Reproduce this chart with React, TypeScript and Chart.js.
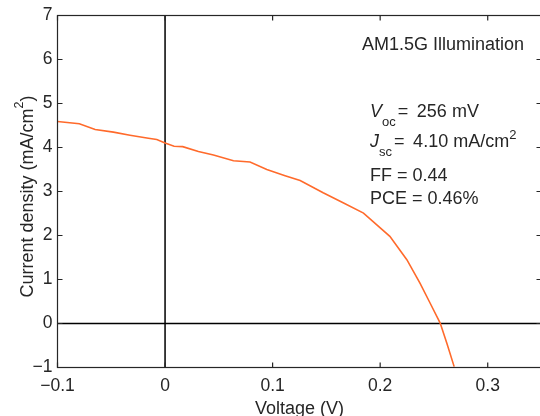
import React, { useEffect, useRef } from "react";
import { Chart, registerables } from "chart.js";

Chart.register(...registerables);

const voltage = [
  -0.1, -0.0797, -0.065, -0.048, -0.0326, -0.0155, -0.0077, 0, 0.0084, 0.0164,
  0.031, 0.045, 0.0636, 0.079, 0.0946, 0.1116, 0.1256, 0.147, 0.166, 0.1845,
  0.209, 0.2248, 0.237, 0.2465, 0.2558, 0.262, 0.2688,
];
const currentDensity = [
  4.59, 4.54, 4.41, 4.35, 4.28, 4.21, 4.18, 4.1, 4.03, 4.02, 3.91, 3.83, 3.7,
  3.67, 3.5, 3.36, 3.25, 2.97, 2.74, 2.51, 1.98, 1.45, 0.92, 0.46, 0.01, -0.45,
  -0.98,
];
const xTicks = [-0.1, 0, 0.1, 0.2, 0.3];
const yTicks = [-1, 0, 1, 2, 3, 4, 5, 6, 7];
const annotationTitle = "AM1.5G Illumination";
const vocText = "= \u2009256 mV";
const jscText = "= \u20094.10 mA/cm";
const ffText = "FF = 0.44";
const pceText = "PCE = 0.46%";

const FONT = "'Liberation Sans', Arial, Helvetica, sans-serif";
const INK = "#262626";

function fmt(v: number): string {
  const r = Math.round(v * 100) / 100;
  if (r === 0) return "0";
  return (r < 0 ? "\u2212" : "") + String(Math.abs(r));
}

type Seg = { t: string; size: number; dy?: number; dx?: number; italic?: boolean };

function drawSegs(ctx: CanvasRenderingContext2D, segs: Seg[], x: number, y: number, align: "left" | "center") {
  const widths = segs.map((s) => {
    ctx.font = `${s.italic ? "italic " : ""}${s.size}px ${FONT}`;
    return ctx.measureText(s.t).width + (s.dx || 0);
  });
  const total = widths.reduce((a, b) => a + b, 0);
  let cx = align === "center" ? x - total / 2 : x;
  ctx.textAlign = "left";
  ctx.textBaseline = "alphabetic";
  segs.forEach((s, i) => {
    ctx.font = `${s.italic ? "italic " : ""}${s.size}px ${FONT}`;
    ctx.fillText(s.t, cx + (s.dx || 0), y + (s.dy || 0));
    cx += widths[i];
  });
}

const framePlugin = {
  id: "framePlugin",
  beforeDatasetsDraw(chart: any) {
    const { ctx, chartArea: a, scales } = chart;
    const x0 = scales.x.getPixelForValue(0);
    const y0 = scales.y.getPixelForValue(0);
    ctx.save();
    ctx.strokeStyle = "#000";
    ctx.lineWidth = 1.5;
    ctx.beginPath();
    ctx.moveTo(x0, a.top);
    ctx.lineTo(x0, a.bottom);
    ctx.moveTo(a.left, y0);
    ctx.lineTo(a.right, y0);
    ctx.stroke();
    ctx.restore();
  },
  afterDatasetsDraw(chart: any) {
    const { ctx, chartArea: a, scales } = chart;
    ctx.save();
    ctx.strokeStyle = INK;
    ctx.lineWidth = 1.2;
    ctx.strokeRect(a.left, a.top, a.right - a.left, a.bottom - a.top);
    const tl = 5;
    ctx.beginPath();
    xTicks.forEach((v) => {
      const px = scales.x.getPixelForValue(v);
      ctx.moveTo(px, a.bottom);
      ctx.lineTo(px, a.bottom - tl);
      ctx.moveTo(px, a.top);
      ctx.lineTo(px, a.top + tl);
    });
    yTicks.forEach((v) => {
      const py = scales.y.getPixelForValue(v);
      ctx.moveTo(a.left, py);
      ctx.lineTo(a.left + tl, py);
      ctx.moveTo(a.right, py);
      ctx.lineTo(a.right - tl, py);
    });
    ctx.stroke();

    ctx.fillStyle = INK;
    // axis titles
    drawSegs(ctx, [{ t: "Voltage (V)", size: 18 }], (a.left + a.right) / 2, 414, "center");
    ctx.save();
    ctx.translate(33, 196.5);
    ctx.rotate(-Math.PI / 2);
    drawSegs(
      ctx,
      [
        { t: "Current density (mA/cm", size: 18 },
        { t: "2", size: 12.5, dy: -10 },
        { t: ")", size: 18 },
      ],
      0,
      0,
      "center"
    );
    ctx.restore();

    // annotations
    drawSegs(ctx, [{ t: annotationTitle, size: 18 }], 362, 49.5, "left");
    drawSegs(
      ctx,
      [
        { t: "V", size: 18, italic: true },
        { t: "oc", size: 13, dy: 8.5 },
        { t: vocText, size: 18, dx: 2 },
      ],
      370,
      117,
      "left"
    );
    drawSegs(
      ctx,
      [
        { t: "J", size: 18, italic: true },
        { t: "sc", size: 13, dy: 8.5 },
        { t: jscText, size: 18, dx: 2 },
        { t: "2", size: 13, dy: -8 },
      ],
      370,
      147,
      "left"
    );
    drawSegs(ctx, [{ t: ffText, size: 18 }], 370, 180.5, "left");
    drawSegs(ctx, [{ t: pceText, size: 18 }], 370, 204, "left");
    ctx.restore();
  },
};

export default function App() {
  const ref = useRef<HTMLCanvasElement | null>(null);
  useEffect(() => {
    if (!ref.current) return;
    const chart = new Chart(ref.current, {
      type: "line",
      data: {
        datasets: [
          {
            data: voltage.map((v, i) => ({ x: v, y: currentDensity[i] })),
            borderColor: "#ff6a2b",
            borderWidth: 1.6,
            pointRadius: 0,
            tension: 0,
            fill: false,
          },
        ],
      },
      options: {
        animation: false,
        responsive: false,
        devicePixelRatio: 1,
        layout: { padding: { top: 15.5, right: 18.5, left: 0, bottom: 0 } },
        plugins: { legend: { display: false }, tooltip: { enabled: false } },
        scales: {
          x: {
            type: "linear",
            min: -0.1,
            max: 0.35,
            afterFit: (s: any) => {
              s.height = 48.5;
            },
            afterBuildTicks: (s: any) => {
              s.ticks = xTicks.map((v) => ({ value: v }));
            },
            grid: { display: false, drawTicks: false },
            border: { display: false },
            ticks: {
              autoSkip: false,
              maxRotation: 0,
              padding: 8,
              color: INK,
              font: { family: FONT, size: 17.5 },
              callback: (v: any) => fmt(Number(v)),
            },
          },
          y: {
            type: "linear",
            min: -1,
            max: 7,
            afterFit: (s: any) => {
              s.width = 57.5;
            },
            afterBuildTicks: (s: any) => {
              s.ticks = yTicks.map((v) => ({ value: v }));
            },
            grid: { display: false, drawTicks: false },
            border: { display: false },
            ticks: {
              autoSkip: false,
              padding: 5,
              color: INK,
              font: { family: FONT, size: 17.5 },
              callback: (v: any) => fmt(Number(v)),
            },
          },
        },
      },
      plugins: [framePlugin],
    });
    return () => chart.destroy();
  }, []);
  return (
    <div style={{ position: "absolute", left: 0, top: 0, width: 540, height: 416, overflow: "hidden", background: "#fff" }}>
      <canvas ref={ref} width={560} height={416} style={{ width: 560, height: 416, display: "block" }} />
    </div>
  );
}
